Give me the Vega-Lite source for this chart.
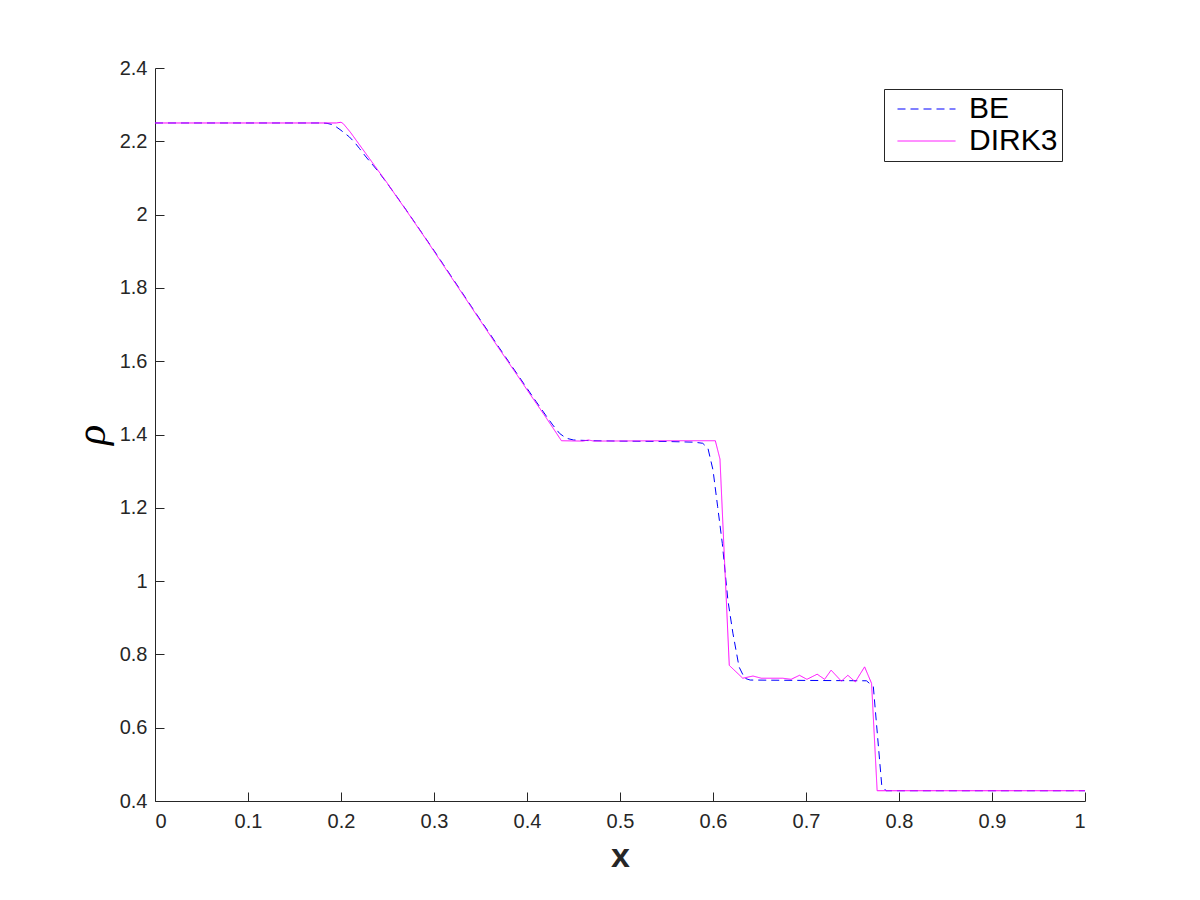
{
  "$schema": "https://vega.github.io/schema/vega-lite/v6.json",
  "autosize": {"type": "none"},
  "padding": {"left": 155, "top": 68, "right": 115, "bottom": 99},
  "width": 930,
  "height": 733,
  "background": "white",
  "data": {
    "values": [
      {"series": "BE", "x": 0, "rho": 2.25},
      {"series": "BE", "x": 0.18, "rho": 2.25},
      {"series": "BE", "x": 0.185, "rho": 2.249},
      {"series": "BE", "x": 0.19, "rho": 2.246},
      {"series": "BE", "x": 0.1945, "rho": 2.24},
      {"series": "BE", "x": 0.2, "rho": 2.23},
      {"series": "BE", "x": 0.205, "rho": 2.22},
      {"series": "BE", "x": 0.209, "rho": 2.212},
      {"series": "BE", "x": 0.215, "rho": 2.196},
      {"series": "BE", "x": 0.22, "rho": 2.18},
      {"series": "BE", "x": 0.227, "rho": 2.157},
      {"series": "BE", "x": 0.235, "rho": 2.133},
      {"series": "BE", "x": 0.24, "rho": 2.118},
      {"series": "BE", "x": 0.25, "rho": 2.084},
      {"series": "BE", "x": 0.26, "rho": 2.049},
      {"series": "BE", "x": 0.27, "rho": 2.013},
      {"series": "BE", "x": 0.28, "rho": 1.976},
      {"series": "BE", "x": 0.29, "rho": 1.939},
      {"series": "BE", "x": 0.3, "rho": 1.902},
      {"series": "BE", "x": 0.31, "rho": 1.864},
      {"series": "BE", "x": 0.32, "rho": 1.826},
      {"series": "BE", "x": 0.33, "rho": 1.788},
      {"series": "BE", "x": 0.34, "rho": 1.75},
      {"series": "BE", "x": 0.35, "rho": 1.712},
      {"series": "BE", "x": 0.36, "rho": 1.675},
      {"series": "BE", "x": 0.37, "rho": 1.637},
      {"series": "BE", "x": 0.38, "rho": 1.6},
      {"series": "BE", "x": 0.39, "rho": 1.563},
      {"series": "BE", "x": 0.4, "rho": 1.526},
      {"series": "BE", "x": 0.41, "rho": 1.489},
      {"series": "BE", "x": 0.42, "rho": 1.453},
      {"series": "BE", "x": 0.4277, "rho": 1.426},
      {"series": "BE", "x": 0.435, "rho": 1.403},
      {"series": "BE", "x": 0.442, "rho": 1.39},
      {"series": "BE", "x": 0.45, "rho": 1.385},
      {"series": "BE", "x": 0.47, "rho": 1.383},
      {"series": "BE", "x": 0.5, "rho": 1.382},
      {"series": "BE", "x": 0.55, "rho": 1.381},
      {"series": "BE", "x": 0.58, "rho": 1.379},
      {"series": "BE", "x": 0.589, "rho": 1.376},
      {"series": "BE", "x": 0.5946, "rho": 1.362},
      {"series": "BE", "x": 0.6, "rho": 1.303},
      {"series": "BE", "x": 0.605, "rho": 1.203},
      {"series": "BE", "x": 0.61, "rho": 1.103},
      {"series": "BE", "x": 0.616, "rho": 0.948},
      {"series": "BE", "x": 0.6214, "rho": 0.858},
      {"series": "BE", "x": 0.628, "rho": 0.766},
      {"series": "BE", "x": 0.634, "rho": 0.735},
      {"series": "BE", "x": 0.64, "rho": 0.73},
      {"series": "BE", "x": 0.7, "rho": 0.729},
      {"series": "BE", "x": 0.765, "rho": 0.728},
      {"series": "BE", "x": 0.7724, "rho": 0.712},
      {"series": "BE", "x": 0.7814, "rho": 0.444},
      {"series": "BE", "x": 0.786, "rho": 0.428},
      {"series": "BE", "x": 1, "rho": 0.428},
      {"series": "DIRK3", "x": 0, "rho": 2.25},
      {"series": "DIRK3", "x": 0.195, "rho": 2.25},
      {"series": "DIRK3", "x": 0.2, "rho": 2.252},
      {"series": "DIRK3", "x": 0.2025, "rho": 2.248},
      {"series": "DIRK3", "x": 0.21, "rho": 2.225},
      {"series": "DIRK3", "x": 0.22, "rho": 2.19},
      {"series": "DIRK3", "x": 0.23, "rho": 2.155},
      {"series": "DIRK3", "x": 0.24, "rho": 2.12},
      {"series": "DIRK3", "x": 0.25, "rho": 2.085},
      {"series": "DIRK3", "x": 0.26, "rho": 2.048},
      {"series": "DIRK3", "x": 0.27, "rho": 2.012},
      {"series": "DIRK3", "x": 0.28, "rho": 1.975},
      {"series": "DIRK3", "x": 0.29, "rho": 1.938},
      {"series": "DIRK3", "x": 0.3, "rho": 1.9},
      {"series": "DIRK3", "x": 0.31, "rho": 1.862},
      {"series": "DIRK3", "x": 0.32, "rho": 1.824},
      {"series": "DIRK3", "x": 0.33, "rho": 1.786},
      {"series": "DIRK3", "x": 0.34, "rho": 1.748},
      {"series": "DIRK3", "x": 0.35, "rho": 1.71},
      {"series": "DIRK3", "x": 0.36, "rho": 1.672},
      {"series": "DIRK3", "x": 0.37, "rho": 1.634},
      {"series": "DIRK3", "x": 0.38, "rho": 1.597},
      {"series": "DIRK3", "x": 0.39, "rho": 1.56},
      {"series": "DIRK3", "x": 0.4, "rho": 1.522},
      {"series": "DIRK3", "x": 0.41, "rho": 1.485},
      {"series": "DIRK3", "x": 0.42, "rho": 1.448},
      {"series": "DIRK3", "x": 0.43, "rho": 1.41},
      {"series": "DIRK3", "x": 0.437, "rho": 1.383},
      {"series": "DIRK3", "x": 0.46, "rho": 1.382},
      {"series": "DIRK3", "x": 0.466, "rho": 1.385},
      {"series": "DIRK3", "x": 0.472, "rho": 1.382},
      {"series": "DIRK3", "x": 0.55, "rho": 1.383},
      {"series": "DIRK3", "x": 0.6025, "rho": 1.383},
      {"series": "DIRK3", "x": 0.6075, "rho": 1.333},
      {"series": "DIRK3", "x": 0.6125, "rho": 1.05},
      {"series": "DIRK3", "x": 0.6175, "rho": 0.77},
      {"series": "DIRK3", "x": 0.632, "rho": 0.735},
      {"series": "DIRK3", "x": 0.643, "rho": 0.741},
      {"series": "DIRK3", "x": 0.652, "rho": 0.735},
      {"series": "DIRK3", "x": 0.675, "rho": 0.735},
      {"series": "DIRK3", "x": 0.684, "rho": 0.732},
      {"series": "DIRK3", "x": 0.693, "rho": 0.743},
      {"series": "DIRK3", "x": 0.701, "rho": 0.732},
      {"series": "DIRK3", "x": 0.712, "rho": 0.746},
      {"series": "DIRK3", "x": 0.72, "rho": 0.732},
      {"series": "DIRK3", "x": 0.727, "rho": 0.757},
      {"series": "DIRK3", "x": 0.738, "rho": 0.727},
      {"series": "DIRK3", "x": 0.745, "rho": 0.743},
      {"series": "DIRK3", "x": 0.753, "rho": 0.725},
      {"series": "DIRK3", "x": 0.763, "rho": 0.766},
      {"series": "DIRK3", "x": 0.7705, "rho": 0.721},
      {"series": "DIRK3", "x": 0.7765, "rho": 0.428},
      {"series": "DIRK3", "x": 1, "rho": 0.428}
    ]
  },
  "mark": {"type": "line", "strokeWidth": 1, "clip": true},
  "encoding": {
    "x": {
      "field": "x", "type": "quantitative",
      "scale": {"domain": [0, 1], "nice": false, "zero": false},
      "axis": {
        "values": [0, 0.1, 0.2, 0.3, 0.4, 0.5, 0.6, 0.7, 0.8, 0.9, 1],
        "format": "~g",
        "labelPadding": 19,
        "title": "x",
        "titleFont": "Liberation Sans",
        "titleFontSize": 34,
        "titleFontWeight": "bold",
        "titleColor": "#262626",
        "titlePadding": 8
      }
    },
    "y": {
      "field": "rho", "type": "quantitative",
      "scale": {"domain": [0.4, 2.4], "nice": false, "zero": false},
      "axis": {
        "values": [0.4, 0.6, 0.8, 1, 1.2, 1.4, 1.6, 1.8, 2, 2.2, 2.4],
        "format": "~g",
        "labelPadding": 17,
        "title": "ρ",
        "titleFont": "Liberation Serif",
        "titleFontStyle": "italic",
        "titleFontWeight": "normal",
        "titleFontSize": 42,
        "titleColor": "#000000",
        "titlePadding": 6
      }
    },
    "color": {
      "field": "series", "type": "nominal",
      "scale": {"domain": ["BE", "DIRK3"], "range": ["#0000FF", "#FF00FF"]},
      "legend": {"title": null}
    },
    "strokeDash": {
      "field": "series", "type": "nominal",
      "scale": {"domain": ["BE", "DIRK3"], "range": [[8, 5], [1, 0]]},
      "legend": {"title": null}
    }
  },
  "config": {
    "view": {"stroke": null},
    "axis": {
      "grid": false,
      "domainColor": "#262626",
      "domainWidth": 1,
      "tickColor": "#262626",
      "tickSize": -9,
      "tickWidth": 1,
      "labelFont": "Liberation Sans",
      "labelFontSize": 20,
      "labelColor": "#262626"
    },
    "legend": {
      "orient": "none",
      "legendX": 729,
      "legendY": 21,
      "strokeColor": "#262626",
      "fillColor": "white",
      "padding": 4,
      "labelFont": "Liberation Sans",
      "labelFontSize": 30,
      "labelColor": "#000000",
      "symbolType": "stroke",
      "symbolSize": 3364,
      "symbolStrokeWidth": 1,
      "symbolOffset": 9,
      "clipHeight": 32,
      "rowPadding": 0,
      "labelOffset": 13
    }
  }
}
